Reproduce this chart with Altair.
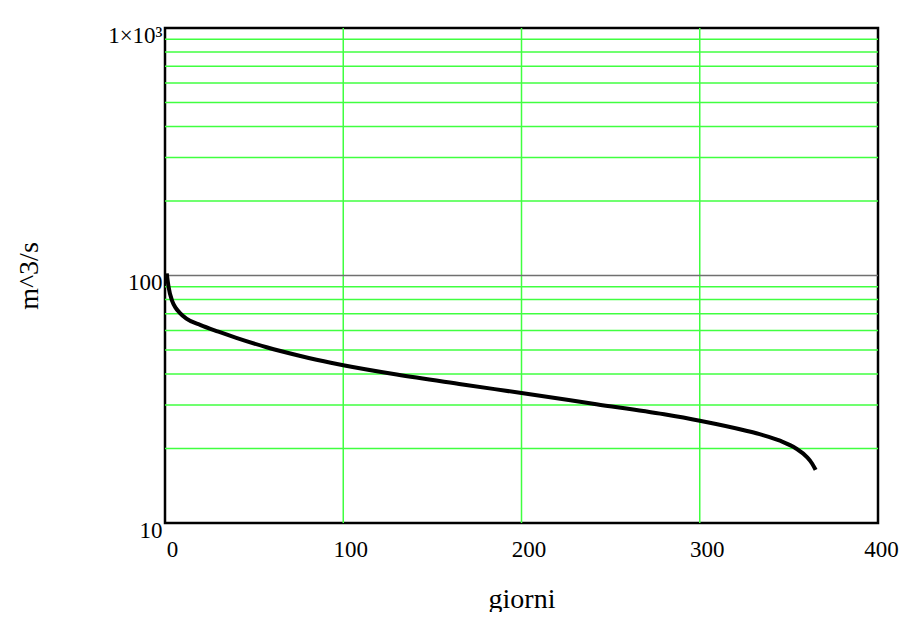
import altair as alt
import pandas as pd

# Flow duration curve
days = [1, 2, 4, 6, 8, 12, 20, 30, 40, 57, 76, 93, 100, 130, 167, 200, 242, 280, 300, 326, 335, 345, 354, 360, 363, 365]
flow = [102, 90, 79, 74, 71, 67, 63, 59.3, 56, 51.3, 47.3, 44.4, 43.4, 39.8, 36.3, 33.5, 30.2, 27.5, 25.9, 23.6, 22.7, 21.5, 20.0, 18.5, 17.4, 16.4]

x_grid = [100, 200, 300]
y_grid_minor = [20, 30, 40, 50, 60, 70, 80, 90, 200, 300, 400, 500, 600, 700, 800, 900]
y_ref = [100]
x_ticks = [0, 100, 200, 300, 400]
y_ticks = [10, 100, 1000]

title_text = "Curva di Durata di riferimento"
x_title = "giorni"
y_title = "m^3/s"

FONT = "Liberation Serif"

curve_df = pd.DataFrame({"giorni": days, "Q": flow})
xg_df = pd.DataFrame({"x": x_grid})
yg_df = pd.DataFrame({"y": y_grid_minor})
yr_df = pd.DataFrame({"y": y_ref})

xscale = alt.Scale(domain=[0, 400], nice=False, zero=False)
yscale = alt.Scale(type="log", domain=[10, 1000], nice=False)

x_axis = alt.Axis(
    values=x_ticks, title=x_title, grid=False, domain=False, ticks=False, tickSize=0,
    labelFont=FONT, labelFontSize=23, labelColor="black", labelPadding=33,
    labelBaseline="alphabetic",
    labelOffset={"condition": {"test": "datum.value >= 400", "value": 3}, "value": 7},
    labelAlign="center",
    labelFlush=False, labelOverlap=False,
    titleFont=FONT, titleFontSize=28, titleFontWeight="normal", titleColor="black",
    titleX=356.5, titleY=84, titleBaseline="alphabetic", titleAlign="center",
)
y_axis = alt.Axis(
    values=y_ticks, title=y_title, grid=False, domain=False, ticks=False, tickSize=0,
    labelExpr="datum.value >= 999 ? '1×10³' : '' + datum.value",
    labelFont=FONT, labelFontSize=23, labelColor="black", labelPadding=3,
    labelBaseline="alphabetic", labelOffset=14, labelAlign="right",
    labelFlush=False, labelOverlap=False,
    titleFont=FONT, titleFontSize=28, titleFontWeight="normal", titleColor="black",
    titleX=-128, titleY=247.5, titleAngle=270, titleBaseline="alphabetic", titleAlign="center",
)

vgrid = alt.Chart(xg_df).mark_rule(color="#40ff40", strokeWidth=1.5).encode(
    x=alt.X("x:Q", scale=xscale, axis=x_axis)
)
hgrid = alt.Chart(yg_df).mark_rule(color="#40ff40", strokeWidth=1.5).encode(
    y=alt.Y("y:Q", scale=yscale, axis=y_axis)
)
ref = alt.Chart(yr_df).mark_rule(color="#707070", strokeWidth=1.5).encode(
    y=alt.Y("y:Q", scale=yscale)
)
curve = alt.Chart(curve_df).mark_line(color="black", strokeWidth=4, interpolate="monotone").encode(
    x=alt.X("giorni:Q", scale=xscale),
    y=alt.Y("Q:Q", scale=yscale),
)

chart = alt.layer(vgrid, hgrid, ref, curve).properties(
    width=713,
    height=495,
    title=alt.TitleParams(
        text=title_text, font=FONT, fontSize=36, fontWeight="normal", color="black",
        anchor="middle", frame="group", offset=16, baseline="alphabetic",
    ),
    autosize=alt.AutoSizeParams(type="none"),
    padding={"left": 157, "top": 20, "right": 21, "bottom": 89},
).configure(
    background="white",
    view=alt.ViewConfig(stroke="black", strokeWidth=2.5),
)

chart.save("out.html", embed_options={"renderer": "svg", "actions": False})
